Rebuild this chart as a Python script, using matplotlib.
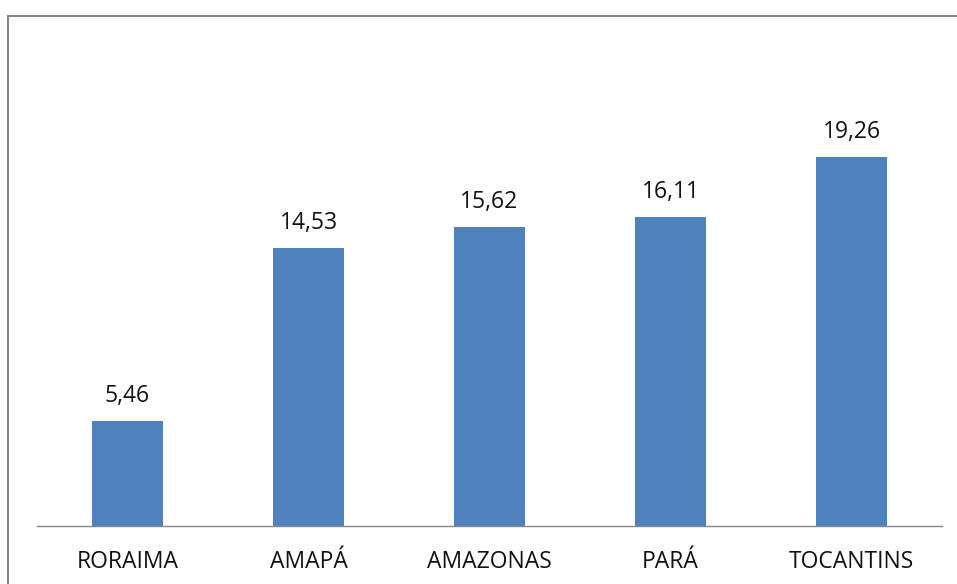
import matplotlib
matplotlib.use("Agg")
from matplotlib import pyplot as plt
from matplotlib.patches import Rectangle

# data
estados = ['RORAIMA', 'AMAPÁ', 'AMAZONAS', 'PARÁ', 'TOCANTINS']
valores = [5.46, 14.53, 15.62, 16.11, 19.26]
rotulos = ['5,46', '14,53', '15,62', '16,11', '19,26']

plt.rcParams['font.family'] = ['Open Sans', 'DejaVu Sans']

W, H = 957, 584
fig = plt.figure(figsize=(W / 100, H / 100), dpi=100)

# axes placed in pixel terms: x 37..942, baseline at y=526
ax = fig.add_axes([37 / W, (H - 526) / H, 905 / W, (526 - 47) / H])

x = range(len(estados))
ax.bar(x, valores, width=0.39, color='#4F81BD')
ax.set_xlim(-0.5, len(estados) - 0.5)
ax.set_ylim(0, 25)

for xi, v, r in zip(x, valores, rotulos):
    ax.annotate(r, (xi, v), xytext=(0, 25), textcoords='offset pixels',
                ha='center', va='center', fontsize=16.5, color='#111111')

ax.set_xticks(list(x))
ax.set_xticklabels(estados, fontsize=16.5, color='#111111')
ax.tick_params(axis='x', length=0, pad=17)
ax.set_yticks([])
for s in ['left', 'right', 'top']:
    ax.spines[s].set_visible(False)
ax.spines['bottom'].set_color('#868686')
ax.spines['bottom'].set_linewidth(1.0)

# outer chart frame (only left and top edges fall inside the image)
fig.patches.append(Rectangle((8 / W, -0.1), 1.2, (H - 16) / H + 0.1,
                             transform=fig.transFigure, fill=False,
                             edgecolor='#868686', linewidth=1.5))

fig.savefig('out.png', dpi=100)
